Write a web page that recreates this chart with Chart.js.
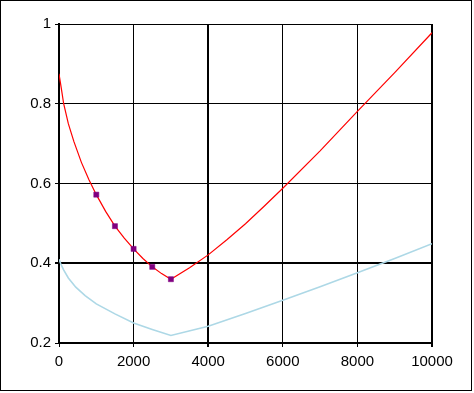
<!DOCTYPE html>
<html>
<head>
<meta charset="utf-8">
<script src="https://cdn.jsdelivr.net/npm/chart.js@4/dist/chart.umd.min.js"></script>
<style>
html,body{margin:0;padding:0;background:#fff;}
#wrap{position:absolute;left:0;top:0;width:474px;height:393px;}
</style>
</head>
<body>
<div id="wrap"><canvas id="c" width="474" height="393"></canvas></div>
<script>
// Red curve
const redX = [0, 60, 125, 250, 400, 600, 800, 1000, 1250, 1500, 1750, 2000, 2250, 2500, 2750, 3000, 3500, 4000, 4500, 5000, 5500, 6000, 7000, 8000, 9000, 10000];
const redY = [0.875, 0.84, 0.80, 0.75, 0.705, 0.653, 0.61, 0.572, 0.53, 0.493, 0.463, 0.436, 0.412, 0.391, 0.374, 0.36, 0.389, 0.421, 0.459, 0.499, 0.543, 0.588, 0.682, 0.781, 0.878, 0.978];
// Light blue curve
const blueX = [0, 50, 120, 250, 450, 700, 1000, 1500, 2000, 2500, 3000, 4000, 5000, 6000, 7000, 8000, 9000, 10000];
const blueY = [0.41, 0.398, 0.384, 0.363, 0.34, 0.319, 0.298, 0.273, 0.25, 0.234, 0.219, 0.242, 0.274, 0.307, 0.341, 0.376, 0.412, 0.449];
// Purple markers
const markX = [1000, 1500, 2000, 2500, 3000];
const markY = [0.572, 0.493, 0.436, 0.391, 0.36];
// Ticks
const xTicks = [0, 2000, 4000, 6000, 8000, 10000];
const yTicks = [0.2, 0.4, 0.6, 0.8, 1];

const pts = (xs, ys) => xs.map((x, i) => ({x: x, y: ys[i]}));

const borderPlugin = {
  id: 'frame',
  beforeDraw(chart) {
    const ctx = chart.ctx;
    ctx.save();
    ctx.fillStyle = '#fff';
    ctx.fillRect(0, 0, chart.width, chart.height);
    ctx.strokeStyle = '#000';
    ctx.lineWidth = 1;
    ctx.strokeRect(0.5, 0.5, 471, 390);
    ctx.restore();
  }
};

const fontDef = {family: '"Liberation Sans", Arial, sans-serif', size: 15};

new Chart(document.getElementById('c'), {
  type: 'scatter',
  data: {
    datasets: [
      {data: pts(blueX, blueY), showLine: true, borderColor: '#add8e6', borderWidth: 1.6, pointRadius: 0, tension: 0, order: 3},
      {data: pts(redX, redY), showLine: true, borderColor: '#ff0000', borderWidth: 1.2, pointRadius: 0, tension: 0, order: 2},
      {data: pts(markX, markY), showLine: false, pointStyle: 'rect', pointRadius: 3.6, backgroundColor: '#800080', borderColor: '#800080', borderWidth: 0.5, order: 1}
    ]
  },
  options: {
    responsive: false,
    animation: false,
    devicePixelRatio: 1,
    layout: {padding: {left: 0, right: 42, top: 24, bottom: 0}},
    plugins: {legend: {display: false}, tooltip: {enabled: false}},
    scales: {
      x: {
        type: 'linear', min: 0, max: 10000,
        afterBuildTicks: (s) => { s.ticks = xTicks.map(v => ({value: v})); },
        afterFit: (s) => { s.height = 50; },
        grid: {
          color: '#000',
          lineWidth: (c) => (c.tick && (c.tick.value === 4000 || c.tick.value === 10000)) ? 2 : 1,
          tickLength: 4, drawTicks: true
        },
        border: {color: '#000', width: 2},
        ticks: {color: '#000', font: fontDef, padding: 6, maxRotation: 0,
          callback: (v) => String(v)}
      },
      y: {
        type: 'linear', min: 0.2, max: 1,
        afterBuildTicks: (s) => { s.ticks = yTicks.map(v => ({value: v})); },
        afterFit: (s) => { s.width = 59; },
        grid: {
          color: '#000',
          lineWidth: (c) => (c.tick && c.tick.value === 0.4) ? 2 : 1,
          tickLength: 4, drawTicks: true
        },
        border: {color: '#000', width: 2},
        ticks: {color: '#000', font: fontDef, padding: 4,
          callback: (v) => String(Math.round(v * 10) / 10)}
      }
    }
  },
  plugins: [borderPlugin]
});
</script>
</body>
</html>
